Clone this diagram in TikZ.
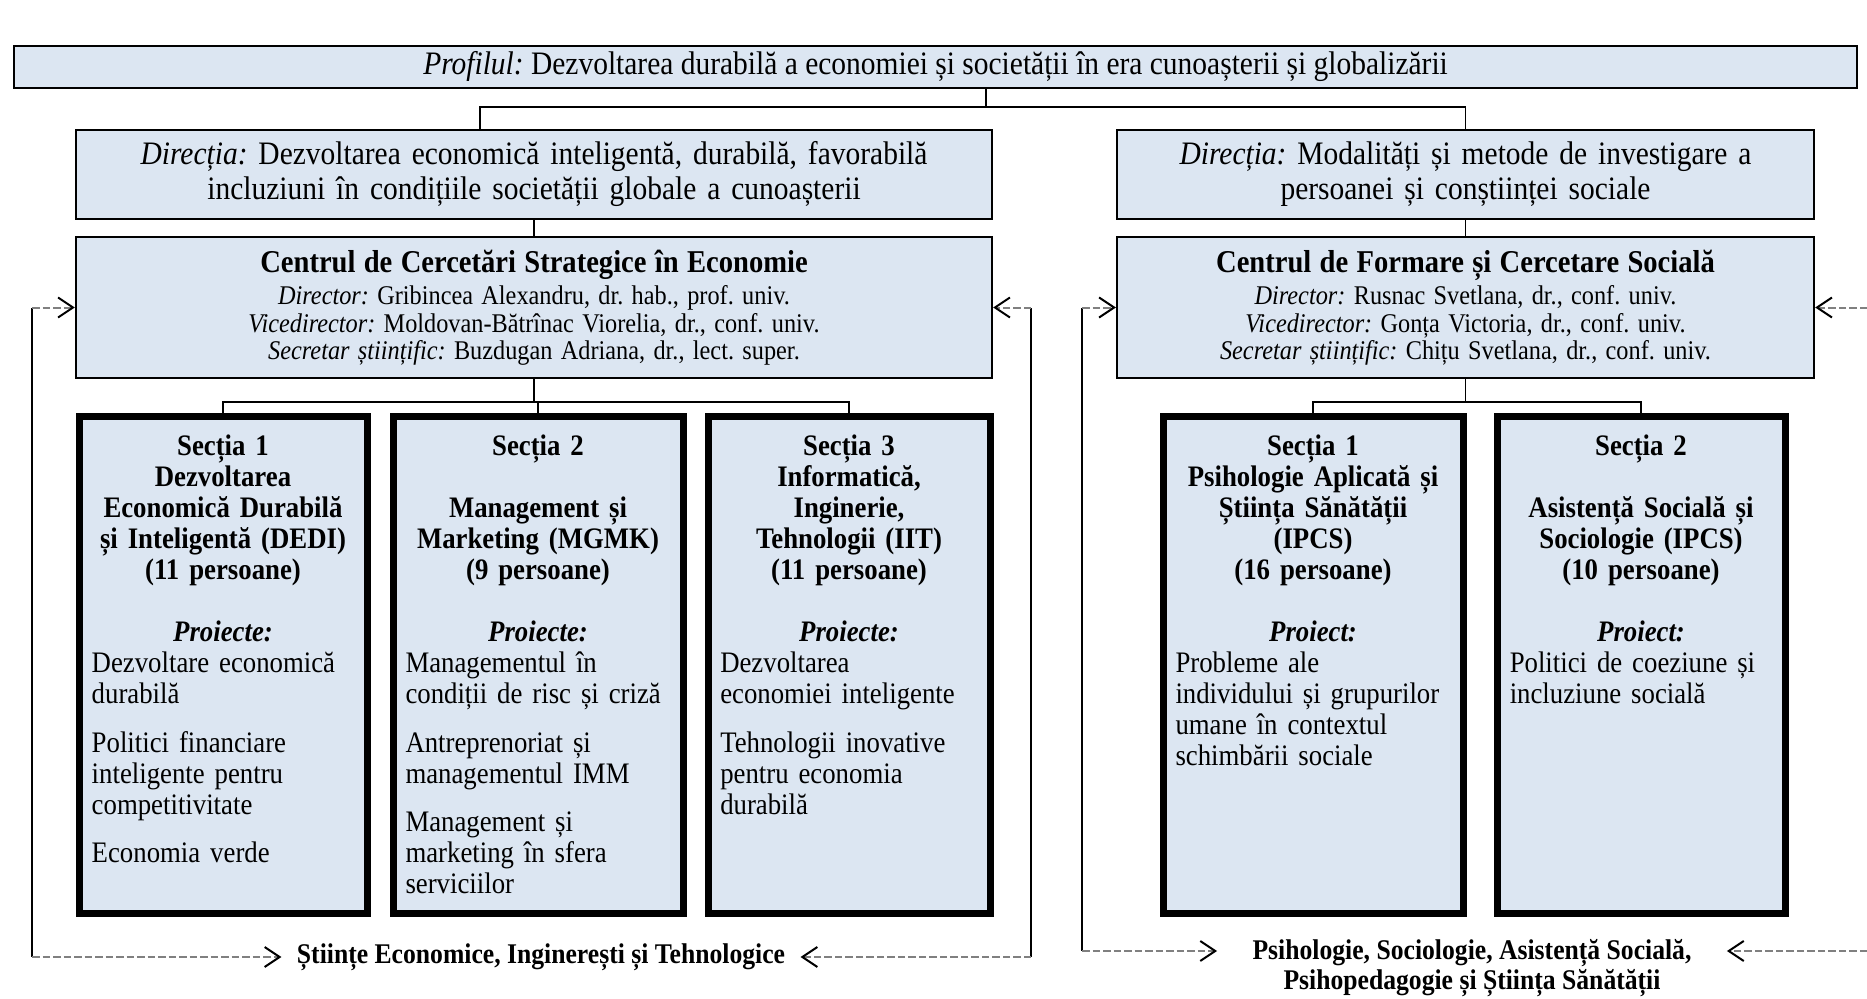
\documentclass[tikz,border=0pt]{standalone}
\usepackage{fontspec}
\setmainfont{Liberation Serif}[FakeStretch=0.9]
\usetikzlibrary{positioning,arrows.meta}

\definecolor{boxblue}{RGB}{220,230,242}
\newcommand\fmain{\fontsize{13.1}{14}\selectfont}
\newcommand\fhead{\fontsize{12.7}{13.2}\selectfont\bfseries}
\newcommand\fstaff{\fontsize{10.8}{11}\selectfont}
\newcommand\fsec{\fontsize{11.9}{12.4}\selectfont}
\newcommand\flabel{\fontsize{11.4}{12}\selectfont\bfseries}
\frenchspacing

\begin{document}
\begin{tikzpicture}[x=0.4pt, y=-0.4pt, >={Straight Barb[length=6pt,width=8pt,color=black]},
  box/.style={draw, fill=boxblue, line width=0.9pt, inner sep=0pt, align=center},
  section/.style={draw, fill=boxblue, line width=2.8pt, inner sep=0pt, minimum height=198.4pt},
  sectext/.style={inner sep=0pt, align=left, font=\fsec},
  link/.style={line width=0.6pt},
  feed/.style={gray, line width=0.8pt, dash pattern=on 3pt off 1.2pt},
  domeniu/.style={inner ysep=0pt, inner xsep=6pt, align=center, font=\flabel}]

\useasboundingbox (0,0) rectangle (1867,999);

\node[box, minimum width=737.2pt, minimum height=16.8pt, font=\fmain] (prof) at (935.5,67)
  {\textit{Profilul:} Dezvoltarea durabilă a economiei și societății în era cunoașterii și globalizării};

\node[box, text width=366.4pt, minimum height=35.6pt, font=\fmain] (dir-L) at (534,174.5)
  {\textit{Direcția:} Dezvoltarea economică inteligentă, durabilă, favorabilă\\ incluziuni în condițiile societății globale a cunoașterii};
\node[box, text width=278.8pt, minimum height=35.6pt, font=\fmain] (dir-R) at (1465.5,174.5)
  {\textit{Direcția:} Modalități și metode de investigare a\\ persoanei și conștiinței sociale};

\node[box, text width=366.4pt, minimum height=56.4pt] (centru-L) at (534,307.5)
  {{\fhead Centrul de Cercetări Strategice în Economie\par}\vspace{2pt}
   {\fstaff\textit{Director:} Gribincea Alexandru, dr. hab., prof. univ.\\
    \textit{Vicedirector:} Moldovan-Bătrînac Viorelia, dr., conf. univ.\\
    \textit{Secretar științific:} Buzdugan Adriana, dr., lect. super.\par}};
\node[box, text width=278.8pt, minimum height=56.4pt] (centru-R) at (1465.5,307.5)
  {{\fhead Centrul de Formare și Cercetare Socială\par}\vspace{2pt}
   {\fstaff\textit{Director:} Rusnac Svetlana, dr., conf. univ.\\
    \textit{Vicedirector:} Gonța Victoria, dr., conf. univ.\\
    \textit{Secretar științific:} Chițu Svetlana, dr., conf. univ.\par}};

\foreach \s/\cx/\w in {L1/223/288, L2/538/290, L3/849/282, R1/1313/300, R2/1641/288}
  \node[section, minimum width=\w*0.4pt] (sec-\s) at (\cx,665) {};

\node[sectext, text width=105pt, below=8.5pt of sec-L1.north] (txt-L1)
  {{\centering\bfseries Secția 1\\ Dezvoltarea\\ Economică Durabilă\\ și Inteligentă (DEDI)\\ (11 persoane)\\[12.4pt] \textit{Proiecte:}\par}
   Dezvoltare economică\\ durabilă\\[7pt] Politici financiare\\ inteligente pentru\\ competitivitate\\[7pt] Economia verde};
\node[sectext, text width=106pt, below=8.5pt of sec-L2.north] (txt-L2)
  {{\centering\bfseries Secția 2\\ \mbox{}\\ Management și\\ Marketing (MGMK)\\ (9 persoane)\\[12.4pt] \textit{Proiecte:}\par}
   Managementul în\\ condiții de risc și criză\\[7pt] Antreprenoriat și\\ managementul IMM\\[7pt] Management și\\ marketing în sfera\\ serviciilor};
\node[sectext, text width=103pt, below=8.5pt of sec-L3.north] (txt-L3)
  {{\centering\bfseries Secția 3\\ Informatică,\\ Inginerie,\\ Tehnologii (IIT)\\ (11 persoane)\\[12.4pt] \textit{Proiecte:}\par}
   Dezvoltarea\\ economiei inteligente\\[7pt] Tehnologii inovative\\ pentru economia\\ durabilă};
\node[sectext, text width=110pt, below=8.5pt of sec-R1.north] (txt-R1)
  {{\centering\bfseries Secția 1\\ Psihologie Aplicată și\\ Știința Sănătății\\ (IPCS)\\ (16 persoane)\\[12.4pt] \textit{Proiect:}\par}
   Probleme ale\\ individului și grupurilor\\ umane în contextul\\ schimbării sociale};
\node[sectext, text width=105pt, below=8.5pt of sec-R2.north] (txt-R2)
  {{\centering\bfseries Secția 2\\ \mbox{}\\ Asistență Socială și\\ Sociologie (IPCS)\\ (10 persoane)\\[12.4pt] \textit{Proiect:}\par}
   Politici de coeziune și\\ incluziune socială};

\coordinate (fork-top) at (986,107);
\coordinate (fork-dir) at (480,107);
\coordinate (fork-L) at (534,402);
\coordinate (fork-R) at (1465.5,402);

\draw[link] (prof.south -| fork-top) -- (fork-top);
\draw[link] (dir-L.north -| fork-dir) |- (fork-top) -| (dir-R.north);
\draw[link] (dir-L) -- (centru-L);
\draw[link] (dir-R) -- (centru-R);
\draw[link] (centru-L) -- (fork-L);
\draw[link] (centru-R) -- (fork-R);
\draw[link] (sec-L1.north) |- (fork-L) -| (sec-L3.north);
\draw[link] (sec-L2.north) -- (sec-L2.north |- fork-L);
\draw[link] (sec-R1.north) |- (fork-R) -| (sec-R2.north);

\node[domeniu] (domeniu-L) at (541,957) {Științe Economice, Inginerești și Tehnologice};
\node[domeniu, inner xsep=14pt, anchor=north] (domeniu-R) at (1472,939)
  {Psihologie, Sociologie, Asistență Socială,\\ Psihopedagogie și Știința Sănătății};

\coordinate (ret-L1) at (32,307.5);
\coordinate (ret-L2) at (32,957);
\coordinate (ret-L3) at (1031,957);
\coordinate (ret-L4) at (1031,307.5);
\coordinate (ret-R1) at (1082,307.5);
\coordinate (ret-R2) at (1082,951);
\coordinate (ret-R3) at (1867,951);
\coordinate (ret-R4) at (1867,307.5);

\draw[link] (ret-L1) -- (ret-L2);
\draw[link] (ret-L3) -- (ret-L4);
\draw[link] (ret-R1) -- (ret-R2);
\draw[feed,->] (ret-L1) -- (centru-L);
\draw[feed,->] (ret-L2) -- (domeniu-L);
\draw[feed,->] (ret-L3) -- (domeniu-L);
\draw[feed,->] (ret-L4) -- (centru-L);
\draw[feed,->] (ret-R1) -- (centru-R);
\draw[feed,->] (ret-R2) -- (domeniu-R.west |- ret-R2);
\draw[feed,->] (ret-R3) -- (domeniu-R.east |- ret-R3);
\draw[feed,->] (ret-R4) -- (centru-R);

\end{tikzpicture}
\end{document}
